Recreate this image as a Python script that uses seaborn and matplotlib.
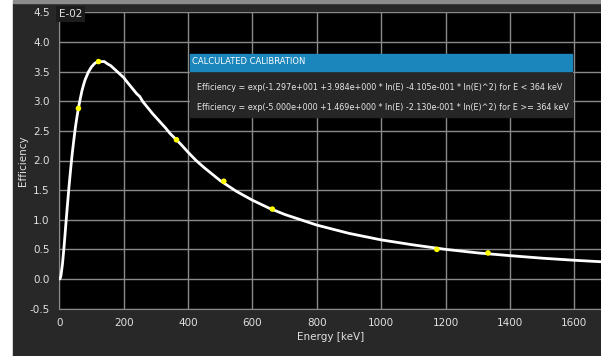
#%% dependencies
import numpy as np
import pandas as pd
import matplotlib.pyplot as plt
import seaborn as sns
from matplotlib.patches import Rectangle

#%% data (efficiency in units of E-02)
curve_energy = [2, 5, 10, 15, 20, 25, 30, 35, 40, 45, 50, 55, 60, 65, 70, 75, 80, 90,
                100, 110, 120, 130, 140, 150, 160, 170, 180, 190, 200, 210, 225, 240,
                250, 260, 275, 290, 300, 315, 330, 345, 364, 380, 400, 425, 450, 475,
                500, 550, 600, 650, 700, 750, 800, 850, 900, 950, 1000, 1100, 1200,
                1300, 1400, 1500, 1600, 1700]
curve_eff = [0.0, 0.05, 0.26, 0.56, 0.90, 1.23, 1.55, 1.84, 2.11, 2.34, 2.56, 2.74,
             2.90, 3.04, 3.17, 3.27, 3.36, 3.49, 3.58, 3.64, 3.67, 3.67, 3.67, 3.63,
             3.60, 3.55, 3.50, 3.45, 3.40, 3.33, 3.23, 3.13, 3.08, 2.99, 2.89, 2.79,
             2.73, 2.64, 2.55, 2.45, 2.35, 2.26, 2.14, 2.00, 1.88, 1.77, 1.66, 1.48,
             1.33, 1.20, 1.09, 1.00, 0.91, 0.84, 0.77, 0.715, 0.66, 0.575, 0.50, 0.44,
             0.394, 0.351, 0.316, 0.286]

point_energy = [59.5, 122, 364, 511, 662, 1173, 1332]
point_eff = [2.88, 3.67, 2.35, 1.65, 1.18, 0.50, 0.44]

x_ticks = [0, 200, 400, 600, 800, 1000, 1200, 1400, 1600]
y_ticks = [-0.5, 0.0, 0.5, 1.0, 1.5, 2.0, 2.5, 3.0, 3.5, 4.0, 4.5]

title_text = 'CALCULATED CALIBRATION'
formula_lines = [
    'Efficiency = exp(-1.297e+001 +3.984e+000 * ln(E) -4.105e-001 * ln(E)^2) for E < 364 keV',
    'Efficiency = exp(-5.000e+000 +1.469e+000 * ln(E) -2.130e-001 * ln(E)^2) for E >= 364 keV',
]

curve = pd.DataFrame({'Energy': curve_energy, 'Efficiency': curve_eff})
points = pd.DataFrame({'Energy': point_energy, 'Efficiency': point_eff})

#%% style
sns.set_style('dark')
plt.rcParams['font.family'] = ['DejaVu Sans']
W, H = 601, 356
fig = plt.figure(figsize=(W / 100, H / 100), dpi=100, facecolor='white')

def px(x, y):
    # pixel (from top-left) -> figure fraction
    return x / W, 1 - y / H

# dark panel and grey strip on top (behind the axes)
fig.patches.append(Rectangle(px(13, 356), (W - 13) / W, 353 / H,
                             transform=fig.transFigure, color='#282828', zorder=-2))
fig.patches.append(Rectangle(px(13, 3), (W - 13) / W, 3 / H,
                             transform=fig.transFigure, color='#8c8c8c', zorder=-2))

ax = fig.add_axes([59.3 / W, 1 - 308.6 / H, (W - 59.3) / W, (308.6 - 12.4) / H])
ax.set_facecolor('black')

#%% plot
sns.lineplot(data=curve, x='Energy', y='Efficiency', ax=ax, color='white', lw=2, zorder=3)
sns.scatterplot(data=points, x='Energy', y='Efficiency', ax=ax, color='#ffff00',
                s=16, edgecolor='none', zorder=4)

ax.set_xlim(0, 1683)
ax.set_ylim(-0.5, 4.5)
ax.set_xticks(x_ticks)
ax.set_yticks(y_ticks)
ax.set_yticklabels(['%.1f' % v for v in y_ticks])
ax.grid(True, color='#8a8a8a', lw=1)
ax.set_axisbelow(True)
for s in ['top', 'right']:
    ax.spines[s].set_visible(False)
for s in ['left', 'bottom']:
    ax.spines[s].set_color('#8a8a8a')
ax.tick_params(colors='#e0e0e0', labelsize=7.5, length=3, width=1, pad=4)
ax.tick_params(axis='both', color='#8a8a8a')
ax.set_xlabel('Energy [keV]', color='#e0e0e0', fontsize=7.5, labelpad=3)
ax.set_ylabel('Efficiency', color='#e0e0e0', fontsize=7.5, labelpad=1)

# exponent marker next to the top tick label
fig.text(*px(59, 14), 'E-02', color='#e0e0e0', fontsize=7.5, va='center', ha='left',
         bbox=dict(facecolor='#1c1c1c', edgecolor='none', pad=2), zorder=10)

# calibration box
fig.patches.append(Rectangle(px(190, 117), (572 - 190) / W, (117 - 71) / H,
                             transform=fig.transFigure, color='#262626', zorder=5))
fig.patches.append(Rectangle(px(190, 71), (572 - 190) / W, (71 - 54) / H,
                             transform=fig.transFigure, color='#1a86bc', zorder=5))
fig.text(*px(192, 62), title_text, color='white', fontsize=6, va='center', zorder=6)
for yy, line in zip([88, 107], formula_lines):
    fig.text(*px(197, yy), line, color='#e6e6e6', fontsize=5.78, va='center', zorder=6)

fig.savefig('out.png', dpi=100, facecolor='white')
